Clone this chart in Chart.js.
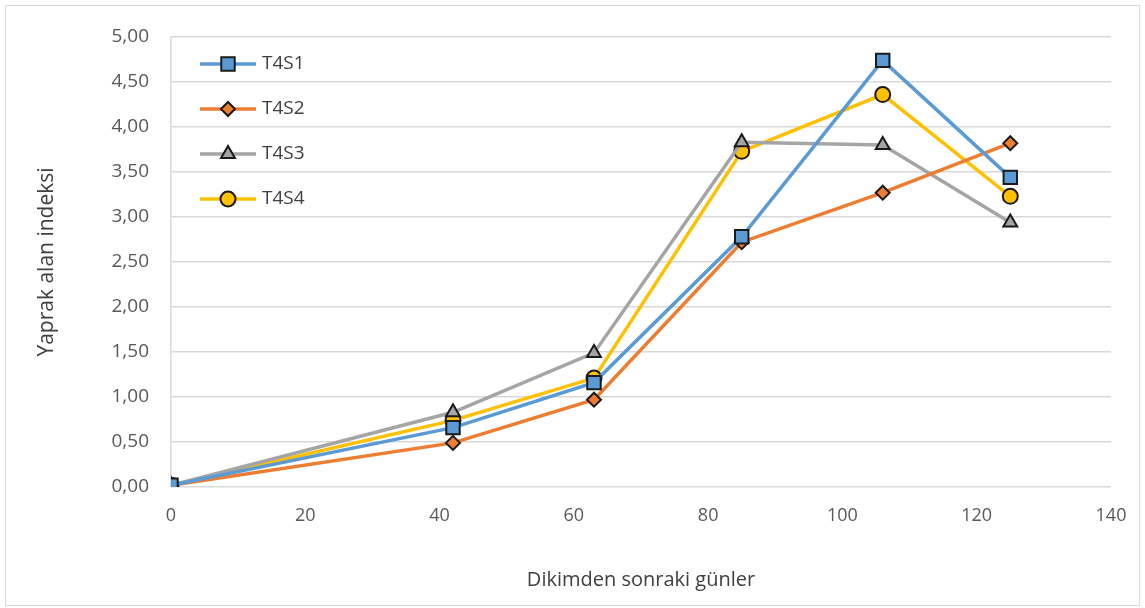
<!DOCTYPE html>
<html>
<head>
<meta charset="utf-8">
<script src="https://cdn.jsdelivr.net/npm/chart.js@4.4.1/dist/chart.umd.min.js"></script>
<style>
  html, body { margin: 0; padding: 0; background: #fff; }
  #wrap { width: 1145px; height: 608px; position: relative; }
</style>
</head>
<body>
<div id="wrap"><canvas id="chart" width="1145" height="608"></canvas></div>
<script>
// Days after planting and leaf area index per treatment
const days = [0, 42, 63, 85, 106, 125];
const t4s1 = [0.02, 0.66, 1.16, 2.78, 4.74, 3.44];
const t4s2 = [0.02, 0.49, 0.97, 2.72, 3.27, 3.82];
const t4s3 = [0.02, 0.83, 1.49, 3.83, 3.80, 2.94];
const t4s4 = [0.02, 0.74, 1.21, 3.73, 4.36, 3.23];
const seriesNames = ["T4S1", "T4S2", "T4S3", "T4S4"];

const textColor = "#595959";
const fontFamily = "'Open Sans', 'Noto Sans', sans-serif";

function toPoints(vals) {
  return vals.map((v, i) => ({ x: days[i], y: v }));
}

function makeSet(label, vals, color, style, r) {
  return {
    label,
    data: toPoints(vals),
    showLine: true,
    borderColor: color,
    backgroundColor: color,
    borderWidth: 3.5,
    pointStyle: style,
    pointRadius: r,
    pointBackgroundColor: color,
    pointBorderColor: "#1a1a1a",
    pointBorderWidth: 2,
    tension: 0,
  };
}

// Frame around the whole chart and legend drawn inside the plot
const framePlugin = {
  id: "frame",
  beforeDraw(chart) {
    const ctx = chart.ctx;
    ctx.save();
    ctx.fillStyle = "#fff";
    ctx.fillRect(0, 0, chart.width, chart.height);
    ctx.strokeStyle = "#d9d9d9";
    ctx.lineWidth = 1;
    ctx.strokeRect(5.5, 5.5, 1134, 600);
    ctx.restore();
  },
  afterDraw(chart) {
    const ctx = chart.ctx;
    const y0 = chart.scales.y;
    ctx.save();
    chart.data.datasets.forEach((ds, i) => {
      const yy = y0.getPixelForValue(4.7 - i * 0.5);
      ctx.strokeStyle = ds.borderColor;
      ctx.lineWidth = 3.5;
      ctx.beginPath();
      ctx.moveTo(200, yy);
      ctx.lineTo(256, yy);
      ctx.stroke();
      ctx.fillStyle = ds.pointBackgroundColor;
      ctx.strokeStyle = ds.pointBorderColor;
      ctx.lineWidth = 2;
      Chart.helpers.drawPoint(ctx, {
        pointStyle: ds.pointStyle,
        radius: ds.pointRadius,
        borderWidth: 2,
        rotation: 0,
      }, 228, yy);
      ctx.fillStyle = "#404040";
      ctx.font = "19px " + fontFamily;
      ctx.textBaseline = "middle";
      ctx.textAlign = "left";
      ctx.fillText(ds.label, 262, yy);
    });
    ctx.restore();
  },
};

new Chart(document.getElementById("chart"), {
  type: "scatter",
  data: {
    datasets: [
      makeSet(seriesNames[0], t4s1, "#5b9bd5", "rect", 9.5),
      makeSet(seriesNames[1], t4s2, "#ed7d31", "rectRot", 7),
      makeSet(seriesNames[2], t4s3, "#a5a5a5", "triangle", 8),
      makeSet(seriesNames[3], t4s4, "#ffc000", "circle", 7.5),
    ],
  },
  options: {
    responsive: false,
    animation: false,
    layout: { padding: { left: 25, top: 37, right: 34, bottom: 12 } },
    plugins: {
      legend: { display: false },
      tooltip: { enabled: false },
    },
    scales: {
      x: {
        type: "linear",
        min: 0,
        max: 140,
        ticks: {
          stepSize: 20,
          color: textColor,
          font: { size: 18, family: fontFamily },
          padding: 18,
        },
        grid: { display: false, drawTicks: false },
        border: { display: false },
        title: {
          display: true,
          text: "Dikimden sonraki günler",
          color: "#404040",
          font: { size: 20, family: fontFamily },
        },
        afterFit(s) { s.height = 608 - 487 - 12; },
      },
      y: {
        min: 0,
        max: 5,
        ticks: {
          stepSize: 0.5,
          color: textColor,
          font: { size: 19, family: fontFamily },
          padding: 22,
          callback: (v) => Number(v).toFixed(2).replace(".", ","),
        },
        grid: { color: "#d9d9d9", lineWidth: 1.5, drawTicks: false },
        border: { display: true, color: "#d9d9d9", width: 1.5 },
        title: {
          display: true,
          text: "Yaprak alan indeksi",
          color: "#404040",
          font: { size: 21, family: fontFamily },
          padding: { top: 9, bottom: 4 },
        },
        afterFit(s) { s.width = 171 - 25; },
      },
    },
  },
  plugins: [framePlugin],
});
</script>
</body>
</html>
